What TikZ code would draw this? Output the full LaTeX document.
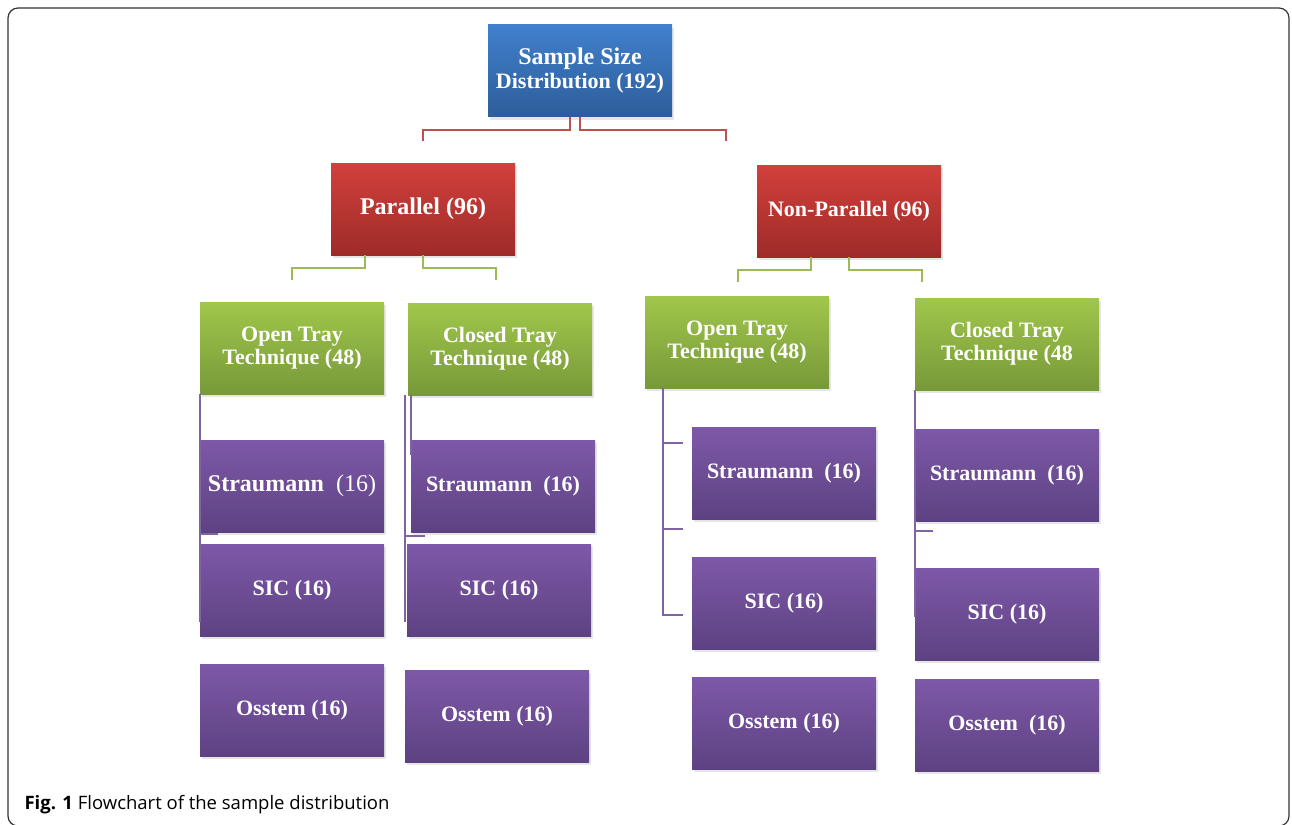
\documentclass[tikz,border=0pt]{standalone}
\usepackage{fontspec}
\setmainfont{Liberation Serif}
\newfontfamily\capfont{Open Sans}
\usetikzlibrary{shadows}

\definecolor{blueTop}{RGB}{64,128,205}
\definecolor{blueBot}{RGB}{45,93,153}
\definecolor{redTop}{RGB}{210,64,60}
\definecolor{redBot}{RGB}{158,43,40}
\definecolor{greenTop}{RGB}{160,199,75}
\definecolor{greenBot}{RGB}{119,153,57}
\definecolor{purpTop}{RGB}{126,88,168}
\definecolor{purpBot}{RGB}{93,66,130}
\definecolor{lnred}{RGB}{192,80,77}
\definecolor{lngreen}{RGB}{155,187,89}
\definecolor{lnpurp}{RGB}{128,100,162}

\begin{document}
\begin{tikzpicture}[x=1pt,y=-1pt,
	box/.style={minimum width=184pt, minimum height=92pt, inner sep=2pt,
		text=white, align=center, font=\bfseries\fontsize{22}{23}\selectfont,
		drop shadow={shadow xshift=2pt, shadow yshift=-3pt, opacity=0.2}},
	bluebox/.style={box, top color=blueTop, bottom color=blueBot},
	redbox/.style={box, top color=redTop, bottom color=redBot},
	greenbox/.style={box, top color=greenTop, bottom color=greenBot},
	purpbox/.style={box, top color=purpTop, bottom color=purpBot},
	redline/.style={draw=lnred, line width=1.6pt},
	greenline/.style={draw=lngreen, line width=1.6pt},
	purpline/.style={draw=lnpurp, line width=1.6pt}]
	\useasboundingbox (0,0) rectangle (1292,824);
	\draw[line width=1.2pt, rounded corners=10pt, black!80] (8,8) rectangle (1289,826);

	% top levels
	\node[bluebox, font=\bfseries\fontsize{22}{24}\selectfont] (sample) at (580,71)
		{{\fontsize{24}{24}\selectfont Sample Size}\\Distribution (192)};
	\node[redbox, font=\bfseries\fontsize{24}{24}\selectfont] (par) at (423,209) {Parallel (96)};
	\node[redbox] (nonpar) at (849,211) {Non-Parallel (96)};

	% techniques
	\node[greenbox] (popen) at (292,348) {Open Tray\\Technique (48)};
	\node[greenbox] (pclosed) at (500,349) {Closed Tray\\Technique (48)};
	\node[greenbox] (nopen) at (737,342) {Open Tray\\Technique (48)};
	\node[greenbox] (nclosed) at (1007,344) {Closed Tray\\Technique (48};

	% implants
	\node[purpbox, font=\bfseries\fontsize{24}{24}\selectfont] (popenS) at (292,486)
		{Straumann~~{\mdseries(16)}};
	\node[purpbox] (popenSIC) at (292,590) {SIC (16)};
	\node[purpbox] (popenO) at (292,710) {Osstem (16)};
	\node[purpbox] (pclosedS) at (503,486) {Straumann~~(16)};
	\node[purpbox] (pclosedSIC) at (499,590) {SIC (16)};
	\node[purpbox] (pclosedO) at (497,716) {Osstem (16)};
	\node[purpbox] (nopenS) at (784,473) {Straumann~~(16)};
	\node[purpbox] (nopenSIC) at (784,603) {SIC (16)};
	\node[purpbox] (nopenO) at (784,723) {Osstem (16)};
	\node[purpbox] (nclosedS) at (1007,475) {Straumann~~(16)};
	\node[purpbox] (nclosedSIC) at (1007,614) {SIC (16)};
	\node[purpbox] (nclosedO) at (1007,725) {Osstem~~(16)};

	% connectors
	\draw[redline] ([xshift=-10pt]sample.south) -- ++(0,13) -| ([yshift=22pt]par.north);
	\draw[redline] (sample.south) -- ++(0,13) -| ([xshift=-123pt,yshift=24pt]nonpar.north);
	\draw[greenline] ([xshift=-58pt]par.south) -- ++(0,13) -| ([yshift=22pt]popen.north);
	\draw[greenline] (par.south) -- ++(0,13) -| ([xshift=-4pt,yshift=23pt]pclosed.north);
	\draw[greenline] ([xshift=-38pt]nonpar.south) -- ++(0,13) -| ([xshift=1pt,yshift=14pt]nopen.north);
	\draw[greenline] (nonpar.south) -- ++(0,13) -| ([xshift=-85pt,yshift=16pt]nclosed.north);

	\draw[purpline] (popen.south west) -- ([yshift=14pt]popenSIC.south west);
	\draw[purpline] ([yshift=-2pt]popenS.south west) -- ++(18,0);
	\draw[purpline] ([xshift=-3pt]pclosed.south west) -- ([xshift=-2pt,yshift=14pt]pclosedSIC.south west);
	\draw[purpline] ([xshift=3pt]pclosed.south west) -- ++(0,60);
	\draw[purpline] ([xshift=-6pt,yshift=-4pt]pclosedS.south west) -- ++(20,0);
	\draw[purpline] ([xshift=18pt]nopen.south west) |- ([xshift=-9pt,yshift=34pt]nopenSIC.south west);
	\draw[purpline] ([xshift=-9pt,yshift=-16pt]nopenS.north west) -- ++(-19,0);
	\draw[purpline] ([xshift=-9pt,yshift=-10pt]nopenS.south west) -- ++(-19,0);
	\draw[purpline] (nclosed.south west) -- ([yshift=43pt]nclosedSIC.south west);
	\draw[purpline] ([yshift=-10pt]nclosedS.south west) -- ++(18,0);

	\node[anchor=base west, font=\capfont\fontsize{18.5}{18.5}\selectfont] (caption) at (21,809)
		{\textbf{Fig. 1} Flowchart of the sample distribution};
\end{tikzpicture}
\end{document}
